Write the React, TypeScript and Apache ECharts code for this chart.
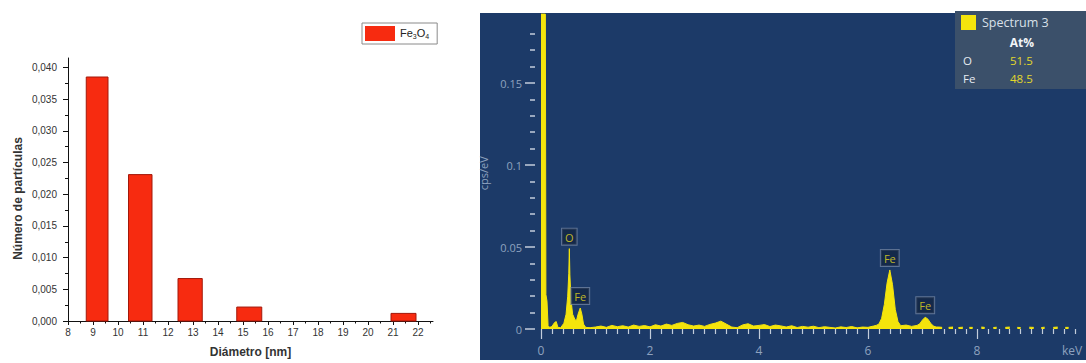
import React, { useEffect, useRef } from "react";
import * as echarts from "echarts";

// ---- Particle size histogram (Fe3O4) ----
const diameterTicks = [8, 9, 10, 11, 12, 13, 14, 15, 16, 17, 18, 19, 20, 21, 22];
const binStart = [8.73, 10.42, 12.4, 14.75, 20.92];
const binEnd = [9.6, 11.36, 13.37, 15.75, 21.92];
const particleFraction = [0.0385, 0.0231, 0.0067, 0.0022, 0.0012];
const fractionTicks = [0, 0.005, 0.01, 0.015, 0.02, 0.025, 0.03, 0.035, 0.04];

// ---- EDS spectrum ----
const spectrumKeV = [
  0, 0.08, 0.09, 0.11, 0.13, 0.16, 0.2, 0.25, 0.28, 0.31, 0.36, 0.42, 0.46, 0.49, 0.51, 0.52,
  0.53, 0.55, 0.58, 0.62, 0.65, 0.68, 0.72, 0.75, 0.78, 0.82,
  0.9, 1.0, 1.1, 1.2, 1.3, 1.4, 1.5, 1.6, 1.7, 1.8, 1.9, 2.0, 2.1, 2.2, 2.3, 2.4, 2.5, 2.6,
  2.7, 2.8, 2.9, 3.0, 3.1, 3.2, 3.3, 3.4, 3.5, 3.6, 3.7, 3.8, 3.9, 4.0, 4.1, 4.2, 4.3, 4.4,
  4.5, 4.6, 4.7, 4.8, 4.9, 5.0, 5.1, 5.2, 5.3, 5.4, 5.5, 5.6, 5.7, 5.8, 5.9, 6.0, 6.1,
  6.15, 6.2, 6.25, 6.3, 6.35, 6.4, 6.45, 6.5, 6.55, 6.6, 6.7, 6.8, 6.9, 6.95, 7.0, 7.05,
  7.1, 7.15, 7.2, 7.25,
  7.3, 7.36, 7.4, 7.48, 7.56, 7.6, 7.66, 7.74, 7.78, 7.86, 7.92, 7.96, 8.08, 8.14, 8.18,
  8.3, 8.36, 8.4, 8.52, 8.6, 8.64, 8.74, 8.8, 8.84, 8.96, 9.04, 9.08, 9.18, 9.24, 9.28,
  9.4, 9.48, 9.52, 9.62, 9.68,
];
const spectrumCps = [
  0.192, 0.192, 0.021, 0.017, 0.002, 0.001, 0.0015, 0.004, 0.0045, 0.001, 0.0008, 0.0035,
  0.009, 0.02, 0.034, 0.049, 0.033, 0.018, 0.009, 0.006, 0.005, 0.009, 0.0128, 0.009, 0.003,
  0.001,
  0.0008, 0.0012, 0.0018, 0.001, 0.0022, 0.0014, 0.002, 0.0012, 0.0024, 0.0016, 0.0021,
  0.0013, 0.0026, 0.0018, 0.003, 0.0022, 0.0034, 0.004, 0.0026, 0.0018, 0.0024, 0.0016,
  0.0028, 0.0036, 0.0048, 0.003, 0.0012, 0.0008, 0.0025, 0.0032, 0.0018, 0.0022, 0.0027,
  0.0015, 0.0024, 0.0019, 0.0012, 0.002, 0.0009, 0.0016, 0.0011, 0.0017, 0.0008, 0.0014,
  0.001, 0.0006, 0.0013, 0.0009, 0.0015, 0.0007, 0.0012, 0.001, 0.0018,
  0.0022, 0.003, 0.0065, 0.015, 0.028, 0.036, 0.027, 0.012, 0.0045, 0.002, 0.0024, 0.0016,
  0.0022, 0.0032, 0.0055, 0.0072, 0.006, 0.0035, 0.0018, 0.0012,
  0.0012, 0.001, null, 0.001, 0.0012, null, 0.0009, 0.0011, null, 0.001, 0.001, null,
  0.0012, 0.001, null, 0.0009, 0.0011, null, 0.001, 0.0012, null, 0.001, 0.0009, null,
  0.0011, 0.001, null, 0.0009, 0.0011, null, 0.001, 0.0012, null, 0.001, 0.001,
];
const peakElements = ["O", "Fe", "Fe", "Fe"];
const peakKeV = [0.52, 0.72, 6.4, 7.05];
const energyTicks = [0, 2, 4, 6, 8];
const cpsTicks = [0, 0.05, 0.1, 0.15];
const quantElements = ["O", "Fe"];
const quantAtPct = ["51.5", "48.5"];

const YELLOW = "#f4e40c";
const TICK_LIGHT = "#c3cddb";
const LABEL_LIGHT = "#8ea2bf";

export default function App() {
  const ref = useRef<HTMLDivElement>(null);

  useEffect(() => {
    if (!ref.current) return;
    const chart = echarts.init(ref.current, undefined, { renderer: "svg" });

    const bars = binStart.map((s, i) => [s, binEnd[i], particleFraction[i]]);
    const spectrum = spectrumKeV.map((e, i) => [e, spectrumCps[i] === null ? "-" : spectrumCps[i]]);
    const peaks = peakKeV.map((e, i) => ({
      name: peakElements[i],
      value: [e, spectrumCps[spectrumKeV.indexOf(e)]],
    }));

    const quantGraphics: any[] = [];
    quantElements.forEach((el, i) => {
      const y = 60 + i * 18;
      quantGraphics.push({
        type: "text", x: 963, y, z: 20,
        style: { text: el, fill: "#e6ebf1", fontSize: 11.5, fontFamily: "Open Sans", verticalAlign: "middle" },
      });
      quantGraphics.push({
        type: "text", x: 1010, y, z: 20,
        style: { text: quantAtPct[i], fill: "#e3d82a", fontSize: 11.5, fontFamily: "Open Sans", verticalAlign: "middle" },
      });
    });

    const hiddenLine = { show: true, onZero: false, lineStyle: { color: "#1c3a68", width: 0.1, opacity: 0 } };

    const option: any = {
      animation: false,
      backgroundColor: "#ffffff",
      textStyle: { fontFamily: "Liberation Sans" },
      legend: {
        left: 362,
        top: 23,
        data: ["Fe3O4"],
        icon: "rect",
        itemWidth: 30,
        itemHeight: 15,
        itemGap: 4,
        padding: [3, 8, 3, 3],
        borderColor: "#8a8a8a",
        borderWidth: 1,
        formatter: () => "{n|Fe}{s|3}{n|O}{s|4}",
        textStyle: {
          rich: {
            n: { fontSize: 11, color: "#222", lineHeight: 13, verticalAlign: "top", fontFamily: "Liberation Sans" },
            s: { fontSize: 7, color: "#222", lineHeight: 6, verticalAlign: "bottom", fontFamily: "Liberation Sans" },
          },
        },
      },
      grid: [
        { left: 68, top: 58, width: 365, height: 266 },
        { left: 541, top: 17.4, width: 563.3, height: 311.6 },
      ],
      xAxis: [
        {
          gridIndex: 0,
          type: "value",
          min: 8,
          max: 22.6,
          interval: 1,
          axisLine: { show: true, onZero: false, lineStyle: { color: "#111", width: 1 } },
          axisTick: { show: true, length: 4, customValues: diameterTicks, lineStyle: { color: "#111" } },
          minorTick: { show: true, splitNumber: 2, length: 2.5, lineStyle: { color: "#111" } },
          axisLabel: {
            customValues: diameterTicks,
            margin: 6,
            fontSize: 10,
            color: "#333",
            fontFamily: "Liberation Sans",
          },
          splitLine: { show: false },
          name: "Diámetro [nm]",
          nameLocation: "middle",
          nameGap: 25,
          nameTextStyle: { fontSize: 12, fontWeight: "bold", color: "#333", fontFamily: "Liberation Sans" },
        },
        {
          gridIndex: 1,
          type: "value",
          min: 0,
          max: 10,
          interval: 2,
          axisLine: hiddenLine,
          axisTick: { show: true, length: 10, customValues: energyTicks, lineStyle: { color: TICK_LIGHT, width: 1.2 } },
          minorTick: { show: true, splitNumber: 10, length: 5, lineStyle: { color: TICK_LIGHT, width: 1.2 } },
          axisLabel: {
            customValues: energyTicks,
            margin: 15,
            fontSize: 12,
            color: LABEL_LIGHT,
            fontFamily: "Open Sans",
          },
          splitLine: { show: false },
        },
      ],
      yAxis: [
        {
          gridIndex: 0,
          type: "value",
          position: "left",
          min: 0,
          max: 0.0415,
          interval: 0.005,
          axisLine: { show: true, onZero: false, lineStyle: { color: "#111", width: 1 } },
          axisTick: { show: true, length: 5, customValues: fractionTicks, lineStyle: { color: "#111" } },
          minorTick: { show: true, splitNumber: 2, length: 3, lineStyle: { color: "#111" } },
          axisLabel: {
            customValues: fractionTicks,
            margin: 11,
            fontSize: 10,
            color: "#333",
            fontFamily: "Liberation Sans",
            formatter: (v: number) => v.toFixed(3).replace(".", ","),
          },
          splitLine: { show: false },
          name: "Número de partículas",
          nameLocation: "middle",
          nameGap: 44,
          nameRotate: 90,
          nameTextStyle: {
            fontSize: 12,
            fontWeight: "bold",
            color: "#333",
            fontFamily: "Liberation Sans",
            padding: [0, 18, 0, 0],
          },
        },
        {
          gridIndex: 1,
          type: "value",
          position: "left",
          min: 0,
          max: 0.19,
          interval: 0.05,
          offset: 6,
          axisLine: hiddenLine,
          axisTick: { show: true, inside: false, length: 10, customValues: cpsTicks, lineStyle: { color: TICK_LIGHT, width: 1.5 } },
          minorTick: { show: true, splitNumber: 5, length: 5, lineStyle: { color: TICK_LIGHT, width: 1.5 } },
          axisLabel: {
            customValues: cpsTicks,
            margin: 13,
            fontSize: 11,
            color: LABEL_LIGHT,
            fontFamily: "Open Sans",
          },
          splitLine: { show: false },
          name: "cps/eV",
          nameLocation: "middle",
          nameGap: 36,
          nameTextStyle: { fontSize: 11, color: LABEL_LIGHT, fontFamily: "Open Sans" },
        },
      ],
      series: [
        {
          name: "Fe3O4",
          type: "custom",
          xAxisIndex: 0,
          yAxisIndex: 0,
          data: bars,
          encode: { x: [0, 1], y: 2 },
          itemStyle: { color: "#f72b10" },
          renderItem: (_params: any, api: any) => {
            const top = api.coord([api.value(0), api.value(2)]);
            const bottom = api.coord([api.value(1), 0]);
            return {
              type: "rect",
              shape: { x: top[0], y: top[1], width: bottom[0] - top[0], height: bottom[1] - top[1] },
              style: { fill: "#f72b10", stroke: "#a3180a", lineWidth: 1 },
            };
          },
          z: 3,
        },
        {
          name: "Spectrum 3",
          type: "line",
          xAxisIndex: 1,
          yAxisIndex: 1,
          data: spectrum,
          showSymbol: false,
          clip: false,
          connectNulls: false,
          lineStyle: { color: YELLOW, width: 1 },
          areaStyle: { color: YELLOW, opacity: 1 },
          z: 4,
        },
        {
          name: "peaks",
          type: "scatter",
          xAxisIndex: 1,
          yAxisIndex: 1,
          data: peaks,
          symbolSize: 0,
          label: {
            show: true,
            position: "top",
            distance: 4,
            formatter: "{b}",
            color: "#eadc1e",
            fontSize: 11,
            fontFamily: "Open Sans",
            backgroundColor: "rgba(18,34,62,0.9)",
            borderColor: "#6f82a0",
            borderWidth: 1,
            padding: [3, 3, 2, 3],
          },
          z: 6,
        },
      ],
      graphic: [
        // dark spectrum panel
        { type: "rect", z: -10, shape: { x: 480, y: 13, width: 606, height: 347 }, style: { fill: "#1c3a68" } },
        { type: "text", x: 1062, y: 350, z: 5, style: { text: "keV", fill: LABEL_LIGHT, fontSize: 12, fontFamily: "Open Sans", verticalAlign: "middle" } },
        // quantification box
        { type: "rect", z: 15, shape: { x: 955, y: 11, width: 131, height: 78 }, style: { fill: "#3b506a" } },
        { type: "rect", z: 20, shape: { x: 961, y: 15, width: 15, height: 15 }, style: { fill: YELLOW } },
        { type: "text", x: 982, y: 22, z: 20, style: { text: "Spectrum 3", fill: "#d9e0e9", fontSize: 12.5, fontFamily: "Open Sans", verticalAlign: "middle" } },
        { type: "text", x: 1022, y: 42, z: 20, style: { text: "At%", fill: "#f2f5f8", fontSize: 12, fontWeight: "bold", fontFamily: "Open Sans", align: "center", verticalAlign: "middle" } },
        ...quantGraphics,
      ],
    };

    chart.setOption(option);
    return () => chart.dispose();
  }, []);

  return (
    <div
      ref={ref}
      style={{ position: "fixed", left: 0, top: 0, width: 1086, height: 363, background: "#fff" }}
    />
  );
}
